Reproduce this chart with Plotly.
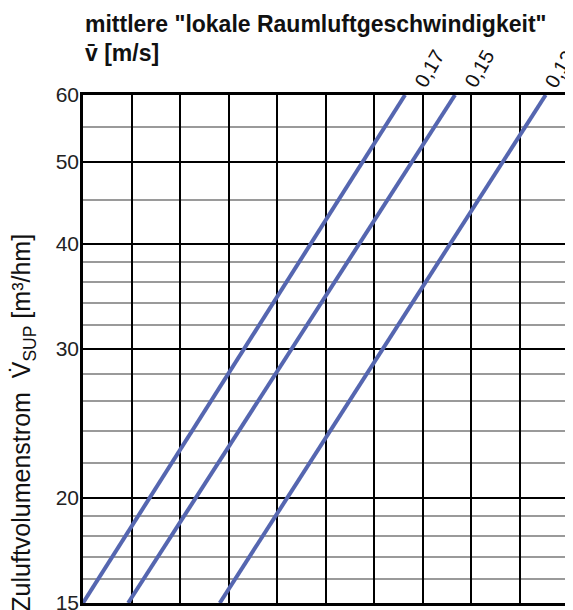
import math
import plotly.graph_objects as go

# --- data -------------------------------------------------------------
speed_labels = ["0,17", "0,15", "0,12"]          # mean local air speed [m/s]
x_at_15 = [0.0, 0.93, 2.82]                       # x position where line hits 15 m³/hm
x_at_60 = [6.64, 7.67, 9.54]                      # x position where line hits 60 m³/hm
y_ends = [15, 60]

y_major = [15, 20, 30, 40, 50, 60]
y_major_labels = ["15", "20", "30", "40", "50", "60"]
y_minor = [16, 17, 18, 19, 22, 24, 26, 28, 32, 34, 36, 38, 45, 55]
x_range = [0, 10]

# style (label offsets in px, kept apart from the data)
label_xshift = [2, 2, -8]
line_color = "#5566b0"
font_family = "Liberation Sans, Arial, sans-serif"

# the page body has an 8px default margin; size the figure to compensate
fig = go.Figure()
for lab, x0, x1, dx in zip(speed_labels, x_at_15, x_at_60, label_xshift):
    fig.add_trace(go.Scatter(
        x=[x0, x1], y=y_ends, mode="lines",
        line=dict(color=line_color, width=4), name=lab, showlegend=False,
        hoverinfo="skip"))
    fig.add_annotation(
        x=x1, y=math.log10(y_ends[1]), xref="x", yref="y",
        text=lab, showarrow=False, textangle=-60,
        xanchor="left", yanchor="bottom", xshift=dx, yshift=1,
        font=dict(family=font_family, size=20, color="#111"))

fig.update_layout(
    width=565, height=602,
    margin=dict(l=75, r=5, t=87, b=7, autoexpand=False),
    paper_bgcolor="white", plot_bgcolor="white",
    font=dict(family=font_family, color="#111"),
)
fig.update_xaxes(
    range=x_range, dtick=1, tick0=0, showticklabels=False, ticks="",
    showgrid=True, gridcolor="#000", gridwidth=1.5, zeroline=False,
    showline=True, linecolor="#000", linewidth=2.5, mirror=True,
    automargin=False)
fig.update_yaxes(
    type="log", range=[math.log10(15), math.log10(60)],
    tickmode="array", tickvals=y_major, ticktext=y_major_labels, ticks="",
    tickfont=dict(size=21, color="#222"), ticklabeloverflow="allow",
    ticklabelstandoff=-3, automargin=False,
    showgrid=True, gridcolor="#000", gridwidth=1.5, zeroline=False,
    showline=True, linecolor="#000", linewidth=2.5, mirror=True,
    minor=dict(tickvals=y_minor, showgrid=True, gridcolor="#9a9a9a",
               gridwidth=1.5, ticks=""))

fig.add_annotation(
    x=0, y=1, xref="paper", yref="paper", yshift=56,
    text='mittlere "lokale Raumluftgeschwindigkeit"',
    showarrow=False, xanchor="left", yanchor="bottom",
    font=dict(family=font_family, size=23, color="#111", weight="bold"))
fig.add_annotation(
    x=0, y=1, xref="paper", yref="paper", yshift=27,
    text="v\u0304 [m/s]",
    showarrow=False, xanchor="left", yanchor="bottom",
    font=dict(family=font_family, size=23, color="#111", weight="bold"))
fig.add_annotation(
    x=0, y=0.355, xref="paper", yref="paper", xshift=-60,
    text="Zuluftvolumenstrom\u00a0\u00a0V\u0307<sub>SUP</sub> [m\u00b3/hm]",
    showarrow=False, textangle=-90, xanchor="center", yanchor="middle",
    font=dict(family=font_family, size=25, color="#111"))

fig.write_html("out.html")
